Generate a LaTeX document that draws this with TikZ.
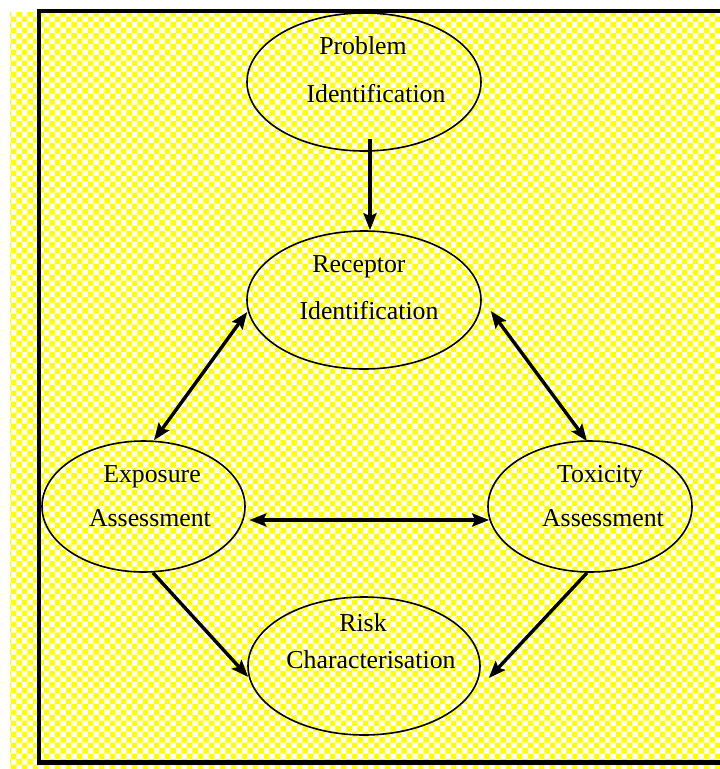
\documentclass[tikz,border=0pt]{standalone}
\usepackage{fontspec}
\setmainfont{Liberation Serif}
\usetikzlibrary{shapes.geometric,arrows.meta,patterns}
\begin{document}
\begin{tikzpicture}[x=1pt,y=-1pt,
  bubble/.style={draw=black,line width=1.6pt,ellipse,inner sep=0pt},
  txt/.style={anchor=base,inner sep=0pt,font=\fontsize{25.8}{30}\selectfont},
  arr/.style={line width=3.4pt,-{Stealth[length=17pt,width=13pt,inset=3pt]}},
  darr/.style={line width=3.4pt,{Stealth[length=17pt,width=13pt,inset=3pt]}-{Stealth[length=17pt,width=13pt,inset=3pt]}}]
\useasboundingbox (0,0) rectangle (720,769);
\fill[white] (0,0) rectangle (720,769);
\fill[pattern=checkerboard,pattern color=yellow] (10,12) rectangle (720,769);
\draw[line width=4.5pt] (726,11) -- (39,11) -- (39,762.5) -- (726,762.5);

\node[bubble,minimum width=234pt,minimum height=138pt] (prob) at (364,82) {};
\node[bubble,minimum width=234pt,minimum height=138pt] (rec) at (364,300) {};
\node[bubble,minimum width=203pt,minimum height=131pt] (exp) at (143.5,506.5) {};
\node[bubble,minimum width=204pt,minimum height=131pt] (tox) at (590,506.5) {};
\node[bubble,minimum width=232pt,minimum height=138pt] (risk) at (364,666) {};

\node[txt] (prob1) at (363,54) {Problem};
\node[txt] (prob2) at (376,102) {Identification};
\node[txt] (rec1) at (359,272) {Receptor};
\node[txt] (rec2) at (369,319) {Identification};
\node[txt] (exp1) at (152,482) {Exposure};
\node[txt] (exp2) at (150,526) {Assessment};
\node[txt] (tox1) at (600,482) {Toxicity};
\node[txt] (tox2) at (603,526) {Assessment};
\node[txt] (risk1) at (363,631) {Risk};
\node[txt] (risk2) at (371,668) {Characterisation};

\draw[arr] ([shift={(6,-13)}]prob.south) -- ([xshift=6]rec.north);
\draw[darr] ([xshift=10.5]exp.north) -- ([shift={(1,12)}]rec.west);
\draw[darr] ([shift={(9,11)}]rec.east) -- ([shift={(-3,1)}]tox.north);
\draw[darr] ([shift={(3.5,13.5)}]exp.east) -- ([shift={(2,13.5)}]tox.west);
\draw[arr] ([xshift=9.5]exp.south) -- ([shift={(1,11)}]risk.west);
\draw[arr] ([xshift=-3]tox.south) -- ([shift={(8,12)}]risk.east);
\end{tikzpicture}
\end{document}
